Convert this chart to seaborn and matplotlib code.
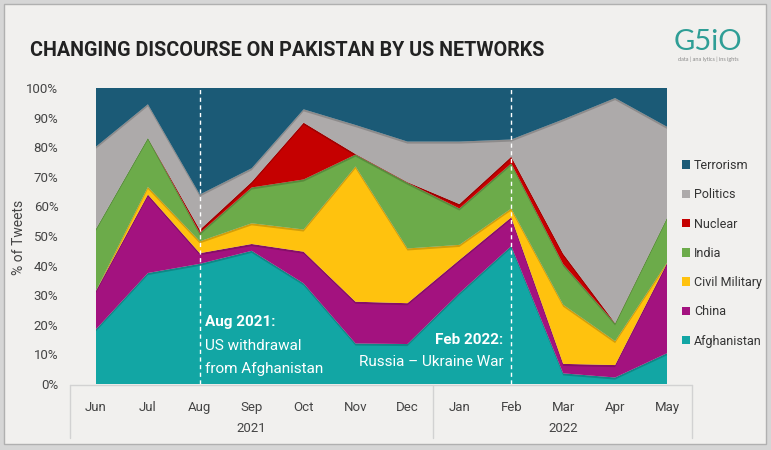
import matplotlib
matplotlib.use("Agg")
import matplotlib.pyplot as plt
import matplotlib.patheffects as pe
from matplotlib.patches import Patch, Rectangle
from matplotlib.lines import Line2D
import seaborn as sns
import numpy as np

months = ["Jun", "Jul", "Aug", "Sep", "Oct", "Nov", "Dec", "Jan", "Feb", "Mar", "Apr", "May"]
years = ["2021", "2022"]
afghanistan = [18.5, 37.5, 40.6, 45.0, 34.0, 13.7, 13.5, 30.7, 46.6, 3.6, 2.2, 10.4]
china = [13.0, 26.5, 3.6, 2.3, 10.7, 14.1, 13.8, 11.2, 9.7, 3.2, 4.2, 30.4]
civil_military = [0.0, 2.6, 4.0, 7.0, 7.5, 45.7, 18.5, 5.1, 3.0, 20.0, 8.1, 0.2]
india = [21.0, 16.6, 2.8, 12.1, 16.9, 4.0, 22.2, 12.3, 15.2, 13.7, 6.0, 15.2]
nuclear = [0.0, 0.0, 1.1, 1.9, 19.2, 0.2, 0.2, 1.5, 2.3, 3.5, 0.1, 0.0]
politics = [27.7, 11.3, 11.9, 4.6, 4.5, 9.8, 13.7, 21.1, 5.8, 45.4, 76.0, 30.7]
terrorism = [19.8, 5.5, 36.0, 27.1, 7.2, 12.5, 18.1, 18.1, 17.4, 10.6, 3.4, 13.1]

series_names = ["Afghanistan", "China", "Civil Military", "India", "Nuclear", "Politics", "Terrorism"]
series_vals = [afghanistan, china, civil_military, india, nuclear, politics, terrorism]
colors = ["#12a6a4", "#a3127f", "#ffc20e", "#6cab4a", "#c50000", "#adaaaa", "#1b5a76"]

sns.set_theme(style="white")
FAM = ["Roboto", "DejaVu Sans"]
plt.rcParams["font.family"] = FAM

W, H = 771, 450
fig = plt.figure(figsize=(W / 100, H / 100), dpi=100)
fig.patch.set_facecolor("#d6d6d6")
fig.add_artist(Rectangle((4 / W, 6 / H), 762 / W, 440 / H, transform=fig.transFigure,
                         facecolor="#f1f0ee", edgecolor="#b0b0b0", lw=1.0, zorder=-10))


def fx(px):
    return px / W


def fy(py):
    return 1 - py / H


ax = fig.add_axes([fx(96), fy(384), fx(667) - fx(96), fy(88) - fy(384)])
ax.set_zorder(2)
x = np.arange(len(months))
polys = ax.stackplot(x, *series_vals, colors=colors, linewidth=0)
for p in polys:
    p.set_path_effects([pe.SimplePatchShadow(offset=(0, -1.5), shadow_rgbFace="black", alpha=0.18),
                        pe.Normal()])
ax.set_xlim(0, 11)
ax.set_ylim(0, 100)
sns.despine(ax=ax, left=True, bottom=True)

ax.set_yticks(range(0, 101, 10))
ax.set_yticklabels([f"{v}%" for v in range(0, 101, 10)], fontsize=9.5, color="#444444")
ax.tick_params(axis="y", length=0, pad=27)
ax.set_xticks(x)
ax.set_xticklabels(months, fontsize=9.5, color="#444444")
ax.tick_params(axis="x", length=0, pad=12)

for xv in (2, 8):
    ax.axvline(xv, color="white", lw=1.0, ls=(0, (3, 2.5)), zorder=5)

ax.text(2.1, 21, "Aug 2021:", ha="left", va="center", color="white", zorder=6,
        fontsize=11, fontweight="bold")
ax.text(2.1, 12.8, "US withdrawal", ha="left", va="center", color="white", zorder=6, fontsize=11)
ax.text(2.1, 5.0, "from Afghanistan", ha="left", va="center", color="white", zorder=6, fontsize=11)
ax.text(7.85, 14.9, "Feb 2022:", ha="right", va="center", color="white", zorder=6,
        fontsize=11, fontweight="bold")
ax.text(7.85, 7.4, "Russia \u2013 Ukraine War", ha="right", va="center", color="white", zorder=6,
        fontsize=11)

# year labels
trans = ax.get_xaxis_transform()
for xi, yr in zip((3, 9), years):
    ax.text(xi, (384 - 429) / 296, yr, transform=trans, ha="center", va="center",
            fontsize=9.5, color="#444444", clip_on=False)

# x-axis group box lines
lc = "#d2d2d2"
fig.add_artist(Line2D([fx(70), fx(692)], [fy(385), fy(385)], color=lc, lw=1, zorder=1))
for px in (70, 433, 692):
    fig.add_artist(Line2D([fx(px), fx(px)], [fy(385), fy(438)], color=lc, lw=1, zorder=1))

fig.text(fx(19), fy(237), "% of Tweets", rotation=90, ha="center", va="center",
         fontsize=10, color="#444444")

# title, sized to span the same width as in the reference
title = fig.text(fx(30), fy(56), "CHANGING DISCOURSE ON PAKISTAN BY US NETWORKS", ha="left",
                 va="baseline", fontsize=22, fontweight="bold", color="#222222")
renderer = fig.canvas.get_renderer()
wpx = title.get_window_extent(renderer).width
title.set_fontsize(min(22 * 515.0 / wpx, 24))

# logo
fig.text(fx(708), fy(50), "G5iO", ha="center", va="baseline", fontsize=21, color="#2f9e96",
         family=["Lato", "DejaVu Sans"])
fig.text(fx(708), fy(59), "data | ana lytics | ins ights", ha="center", va="center", fontsize=4,
         color="#8a8a8a", family=["Lato", "DejaVu Sans"])

# legend
handles = [Patch(facecolor=c, edgecolor="none", label=n) for n, c in zip(series_names, colors)][::-1]
fig.legend(handles=handles, loc="upper left", bbox_to_anchor=(fx(682), fy(159)), frameon=False,
           fontsize=9, labelspacing=1.3, handlelength=0.65, handleheight=0.65,
           handletextpad=0.3, borderpad=0, borderaxespad=0, labelcolor="#333333")

fig.savefig("out.png", dpi=100, facecolor=fig.get_facecolor())
